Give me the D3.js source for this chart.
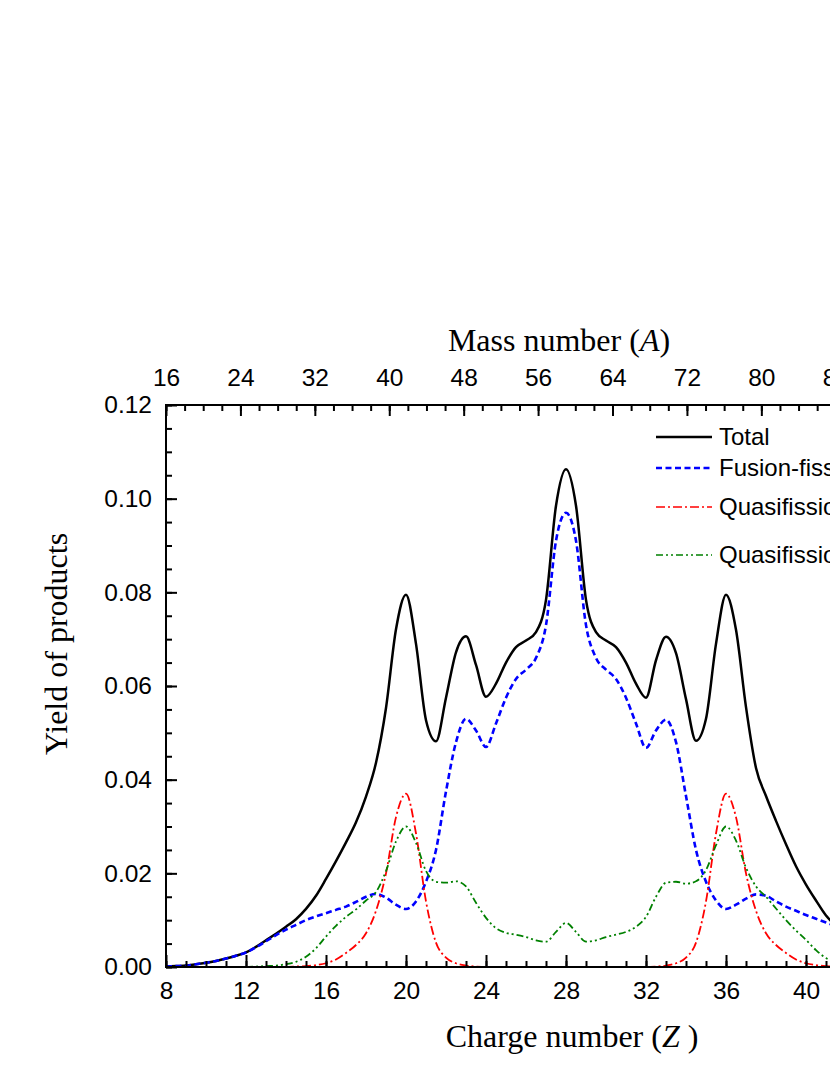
<!DOCTYPE html>
<html>
<head>
<meta charset="utf-8">
<script src="https://cdn.jsdelivr.net/npm/d3@7"></script>
<style>
    body { margin: 0; background: #fff; }
    svg { display: block; overflow: hidden; }
    .tick text { font-family: "Liberation Sans", Arial, sans-serif; font-size: 24.5px; fill: #000; }
    .title { font-family: "Liberation Serif", "Times New Roman", serif; font-size: 32px; fill: #000; }
    .legend text { font-family: "Liberation Sans", Arial, sans-serif; font-size: 24px; fill: #000; }
</style>
</head>
<body>
<div id="chart"></div>
<script>
// charge number Z of the products (0.5 steps)
var charge = [8, 8.5, 9, 9.5, 10, 10.5, 11, 11.5, 12, 12.5, 13, 13.5, 14, 14.5, 15, 15.5,
    16, 16.5, 17, 17.5, 18, 18.5, 19, 19.5, 20, 20.5, 21, 21.5, 22, 22.5, 23, 23.5,
    24, 24.5, 25, 25.5, 26, 26.5, 27, 27.5, 28, 28.5, 29, 29.5, 30, 30.5, 31, 31.5,
    32, 32.5, 33, 33.5, 34, 34.5, 35, 35.5, 36, 36.5, 37, 37.5, 38, 38.5, 39, 39.5,
    40, 40.5, 41, 41.5, 42, 42.5, 43, 43.5, 44];

var total = [0.0001, 0.0002, 0.0003, 0.0006, 0.0009, 0.0013, 0.0018, 0.0024, 0.0031, 0.0043, 0.0057, 0.0071, 0.0086, 0.0102, 0.0124, 0.0152,
    0.0188, 0.0226, 0.0266, 0.0309, 0.0364, 0.0436, 0.0553, 0.0721, 0.0795, 0.0690, 0.0527, 0.0482, 0.0575, 0.0672, 0.0706, 0.0645,
    0.0577, 0.0605, 0.0650, 0.0683, 0.0697, 0.0715, 0.0784, 0.0985, 0.1063, 0.0985, 0.0784, 0.0715, 0.0697, 0.0683, 0.0650, 0.0605,
    0.0575, 0.0655, 0.0705, 0.0670, 0.0572, 0.0483, 0.0530, 0.0690, 0.0795, 0.0720, 0.0555, 0.0425, 0.0365, 0.0312, 0.0262, 0.0215,
    0.0176, 0.0142, 0.0110, 0.0088, 0.0068, 0.0052, 0.0040, 0.0030, 0.0022];

var fusionFission = [0.0001, 0.0002, 0.0003, 0.0006, 0.0009, 0.0013, 0.0018, 0.0024, 0.0031, 0.0042, 0.0055, 0.0068, 0.0080, 0.0090, 0.0100, 0.0108,
    0.0115, 0.0122, 0.0129, 0.0139, 0.0150, 0.0156, 0.0148, 0.0133, 0.0124, 0.0140, 0.0182, 0.0250, 0.0375, 0.0480, 0.0530, 0.0505,
    0.0470, 0.0520, 0.0575, 0.0615, 0.0635, 0.0660, 0.0730, 0.0910, 0.0970, 0.0910, 0.0730, 0.0660, 0.0635, 0.0615, 0.0575, 0.0520,
    0.0468, 0.0505, 0.0528, 0.0480, 0.0365, 0.0250, 0.0182, 0.0142, 0.0124, 0.0133, 0.0146, 0.0155, 0.0152, 0.0140, 0.0129, 0.0120,
    0.0111, 0.0103, 0.0095, 0.0087, 0.0078, 0.0068, 0.0056, 0.0044, 0.0032];

var quasiRed = [0, 0, 0, 0, 0, 0, 0, 0, 0, 0, 0, 0, 0, 0.0001, 0.0002, 0.0004,
    0.0008, 0.0016, 0.0030, 0.0047, 0.0072, 0.0120, 0.0200, 0.0320, 0.0370, 0.0285, 0.0140, 0.0052, 0.0020, 0.0008, 0.0003, 0.0001,
    0, 0, 0, 0, 0, 0, 0, 0, 0, 0, 0, 0, 0, 0, 0, 0,
    0, 0.0001, 0.0003, 0.0008, 0.0020, 0.0052, 0.0140, 0.0285, 0.0370, 0.0320, 0.0200, 0.0120, 0.0072, 0.0047, 0.0030, 0.0016,
    0.0008, 0.0004, 0.0002, 0.0001, 0, 0, 0, 0, 0];

var quasiGreen = [0, 0, 0, 0, 0, 0, 0, 0, 0, 0.0001, 0.0002, 0.0003, 0.0006, 0.0011, 0.0022, 0.0040,
    0.0065, 0.0088, 0.0107, 0.0123, 0.0142, 0.0160, 0.0205, 0.0268, 0.0300, 0.0265, 0.0205, 0.0182, 0.0180, 0.0183, 0.0172, 0.0137,
    0.0105, 0.0083, 0.0073, 0.0069, 0.0064, 0.0057, 0.0054, 0.0075, 0.0094, 0.0075, 0.0054, 0.0057, 0.0064, 0.0069, 0.0075, 0.0086,
    0.0107, 0.0150, 0.0180, 0.0182, 0.0178, 0.0183, 0.0207, 0.0260, 0.0300, 0.0270, 0.0212, 0.0172, 0.0150, 0.0125, 0.0100, 0.0078,
    0.0058, 0.0036, 0.0019, 0.0010, 0.0005, 0.0003, 0.0002, 0.0001, 0];

// axis ticks
var zTicks = [8, 12, 16, 20, 24, 28, 32, 36, 40, 44];
var aTicks = [16, 24, 32, 40, 48, 56, 64, 72, 80, 88];
var yTicks = [0, 0.02, 0.04, 0.06, 0.08, 0.10, 0.12];

var seriesNames = ["Total", "Fusion-fission", "Quasifission (QF1)", "Quasifission (QF2)"];
var seriesValues = [total, fusionFission, quasiRed, quasiGreen];

/**
 * Constructor for the yield chart
 */
function YieldChart(selector) {
    var self = this;
    self.selector = selector;
    self.styles = [
        {color: "#000000", width: 2.5, dash: null, legendY: 437},
        {color: "#0000ff", width: 2.6, dash: "6,3.5", legendY: 468},
        {color: "#ff0000", width: 1.8, dash: "9,3,2,3", legendY: 507},
        {color: "#008000", width: 1.8, dash: "7,3,2,3,2,3", legendY: 555}
    ];
}

YieldChart.prototype.init = function () {
    var self = this;
    self.margin = {top: 405, left: 166};
    self.width = 720;      // Z 8..44, goes past the right border of the picture
    self.height = 562;

    self.svg = d3.select(self.selector).append("svg")
        .attr("width", 830)
        .attr("height", 1075);

    self.g = self.svg.append("g")
        .attr("transform", "translate(" + self.margin.left + "," + self.margin.top + ")");

    self.xScale = d3.scaleLinear().domain([8, 44]).range([0, self.width]);
    // mass number axis on top does not follow A = 2Z, read separately
    self.aScale = d3.scaleLinear().domain([16, 93.4]).range([0, self.width]);
    self.yScale = d3.scaleLinear().domain([0, 0.12]).range([self.height, 0]);

    self.update();
};

YieldChart.prototype.update = function () {
    var self = this;

    var line = d3.line()
        .x(function (d) { return self.xScale(d[0]); })
        .y(function (d) { return self.yScale(d[1]); })
        .curve(d3.curveMonotoneX);

    seriesValues.forEach(function (vals, i) {
        var pts = charge.map(function (z, k) { return [z, vals[k]]; });
        var st = self.styles[i];
        self.g.append("path")
            .datum(pts)
            .attr("fill", "none")
            .attr("stroke", st.color)
            .attr("stroke-width", st.width)
            .attr("stroke-dasharray", st.dash)
            .attr("d", line);
    });

    // minor ticks
    self.g.append("g")
        .attr("transform", "translate(0," + self.height + ")")
        .call(d3.axisBottom(self.xScale).tickValues(d3.range(8, 45, 1)).tickSize(-6).tickFormat(""))
        .call(cleanAxis);
    self.g.append("g")
        .call(d3.axisTop(self.aScale).tickValues(d3.range(16, 94, 2)).tickSize(-6).tickFormat(""))
        .call(cleanAxis);
    self.g.append("g")
        .call(d3.axisLeft(self.yScale).tickValues(d3.range(0, 0.1201, 0.005)).tickSize(-6).tickFormat(""))
        .call(cleanAxis);

    // major ticks + labels
    self.g.append("g")
        .attr("transform", "translate(0," + self.height + ")")
        .call(d3.axisBottom(self.xScale).tickValues(zTicks).tickSize(-12).tickPadding(15).tickFormat(d3.format("d")))
        .call(cleanAxis);
    self.g.append("g")
        .call(d3.axisTop(self.aScale).tickValues(aTicks).tickSize(-11).tickPadding(19).tickFormat(d3.format("d")))
        .call(cleanAxis);
    self.g.append("g")
        .call(d3.axisLeft(self.yScale).tickValues(yTicks).tickSize(-11).tickPadding(14).tickFormat(d3.format(".2f")))
        .call(cleanAxis);

    // frame
    self.g.append("rect")
        .attr("width", self.width)
        .attr("height", self.height)
        .attr("fill", "none")
        .attr("stroke", "#000")
        .attr("stroke-width", 2);

    // axis titles
    var tb = self.svg.append("text").attr("class", "title")
        .attr("x", 572).attr("y", 1047).attr("text-anchor", "middle");
    tb.append("tspan").text("Charge number (");
    tb.append("tspan").attr("font-style", "italic").text("Z");
    tb.append("tspan").text(" )");

    var tt = self.svg.append("text").attr("class", "title")
        .attr("x", 559).attr("y", 351).attr("text-anchor", "middle");
    tt.append("tspan").text("Mass number (");
    tt.append("tspan").attr("font-style", "italic").text("A");
    tt.append("tspan").text(")");

    self.svg.append("text").attr("class", "title")
        .attr("transform", "translate(67,644) rotate(-90)")
        .attr("text-anchor", "middle")
        .text("Yield of products");

    // legend
    var leg = self.svg.append("g").attr("class", "legend");
    seriesNames.forEach(function (name, i) {
        var st = self.styles[i];
        leg.append("line")
            .attr("x1", 656).attr("x2", 712)
            .attr("y1", st.legendY).attr("y2", st.legendY)
            .attr("stroke", st.color)
            .attr("stroke-width", i === 0 ? 2.5 : (i === 1 ? 2.6 : 1.6))
            .attr("stroke-dasharray", st.dash);
        leg.append("text")
            .attr("x", 719).attr("y", st.legendY)
            .attr("dy", "0.35em")
            .text(name);
    });

    function cleanAxis(g) {
        g.select(".domain").remove();
        g.selectAll(".tick line").attr("stroke", "#000").attr("stroke-width", 2);
    }
};

var chart = new YieldChart("#chart");
chart.init();
</script>
</body>
</html>
